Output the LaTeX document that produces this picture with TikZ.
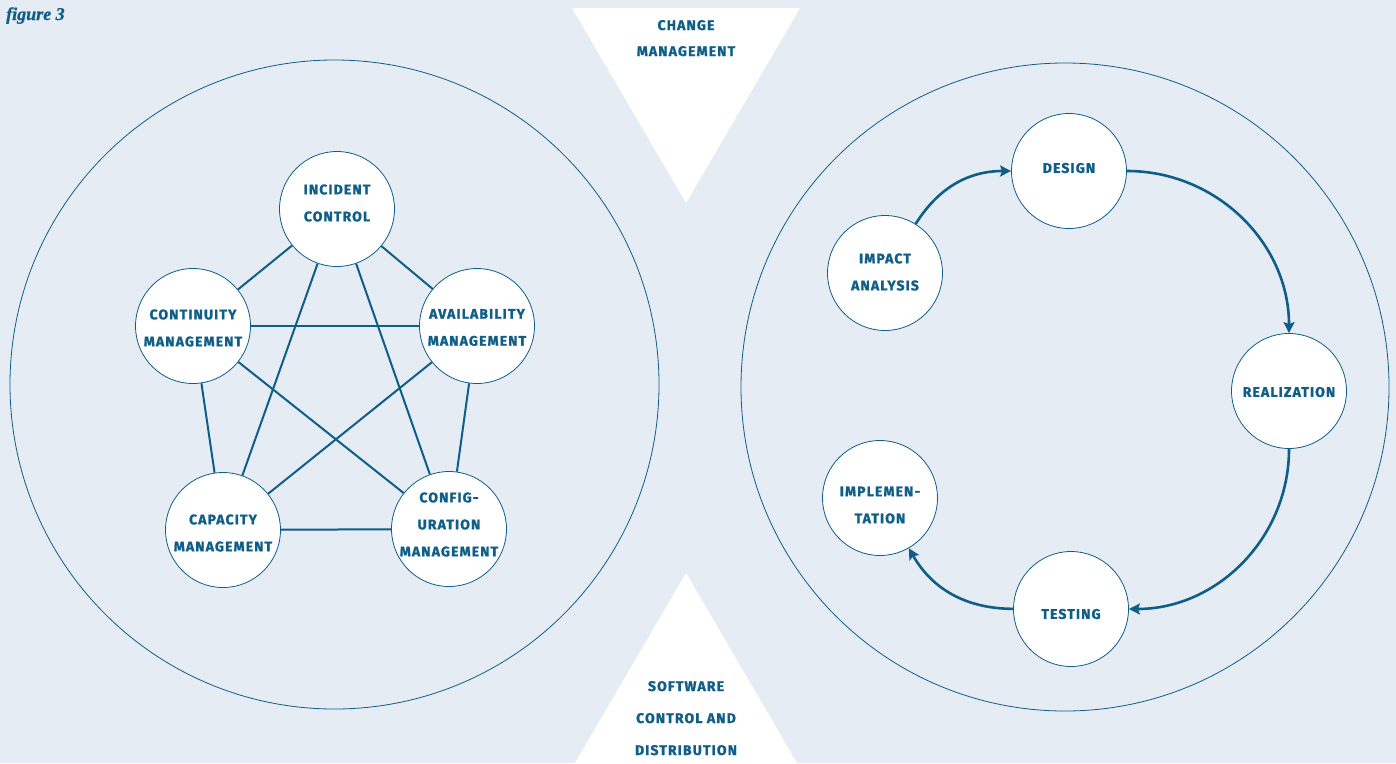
\documentclass[tikz,border=0pt]{standalone}
\usepackage{fontspec}
\usetikzlibrary{arrows.meta}
\newfontfamily\lblfont[LetterSpace=8, BoldFeatures={FakeBold=1.2}]{Fira Sans}
\newfontfamily\figfont[BoldItalicFeatures={FakeBold=1}]{Liberation Serif}
\definecolor{bg}{RGB}{230,236,243}
\definecolor{dblue}{RGB}{14,94,136}
\tikzset{
  proc/.style={circle, draw=dblue, fill=white, line width=0.8pt, minimum size=115pt, inner sep=0pt},
  lbl/.style={align=center, text=dblue, inner sep=0pt, font=\lblfont\bfseries\fontsize{14}{27}\selectfont},
  bigring/.style={draw=dblue, line width=0.8pt},
  edge/.style={draw=dblue, line width=2pt},
  arr/.style={draw=dblue, line width=2.6pt, -{Stealth[length=11pt,width=11pt,inset=2pt]}},
  tri/.style={fill=white, draw=none},
  tritxt/.style={text=dblue, font=\lblfont\bfseries\fontsize{14}{26}\selectfont, align=center}
}
\newcommand\procnode[4]{\node[proc, label={[lbl, yshift=#4]center:#3}] (#1) at (#2) {};}
\begin{document}
\begin{tikzpicture}[x=1pt,y=1pt]
\fill[bg] (0,0) rectangle (1396,-763);
\useasboundingbox (0,0) rectangle (1396,-763);
% title
\node[anchor=base west, text=dblue, font=\figfont\bfseries\itshape\fontsize{18}{20}\selectfont, inner sep=0pt] (title) at (6,-20) {figure 3};
% big circles
\draw[bigring] (334.5,-384.5) circle (324.5);
\draw[bigring] (1065,-387) circle (324);
% triangles
\fill[tri] (572,-8) -- (800,-8) -- (686,-203) -- cycle;
\fill[tri] (686,-573) -- (575,-763) -- (797,-763) -- cycle;
\node[tritxt, anchor=base] (chg) at (686,-56) {CHANGE\\MANAGEMENT};
\node[tritxt, anchor=base, font=\lblfont\bfseries\fontsize{14}{32}\selectfont] (sw) at (686,-755) {SOFTWARE\\CONTROL AND\\DISTRIBUTION};
% left pentagon
\procnode{inc}{337,-209}{INCIDENT\\CONTROL}{6pt}
\procnode{con}{193,-326}{CONTINUITY\\MANAGEMENT}{-2pt}
\procnode{ava}{477,-326}{AVAILABILITY\\MANAGEMENT}{-1.5pt}
\procnode{cap}{223,-530}{CAPACITY\\MANAGEMENT}{-3pt}
\procnode{cfg}{449,-529}{CONFIG-\\URATION\\MANAGEMENT}{4.5pt}
\draw[edge] (inc) -- (con);
\draw[edge] (inc) -- (ava);
\draw[edge] (inc) -- (cap);
\draw[edge] (inc) -- (cfg);
\draw[edge] (con) -- (ava);
\draw[edge] (con) -- (cap);
\draw[edge] (con) -- (cfg);
\draw[edge] (ava) -- (cap);
\draw[edge] (ava) -- (cfg);
\draw[edge] (cap) -- (cfg);
% right cycle
\procnode{imp}{885,-273}{IMPACT\\ANALYSIS}{1pt}
\procnode{des}{1069,-171}{DESIGN}{3pt}
\procnode{rea}{1289,-391}{REALIZATION}{-1pt}
\procnode{tst}{1071,-609}{TESTING}{-5pt}
\procnode{iml}{880,-498}{IMPLEMEN-\\TATION}{-7pt}
\draw[arr] (imp) to[bend left=29] (des);
\draw[arr] (des) to[bend left=45] (rea);
\draw[arr] (rea) to[bend left=45] (tst);
\draw[arr] (tst) to[bend left=30] (iml);
\end{tikzpicture}
\end{document}
